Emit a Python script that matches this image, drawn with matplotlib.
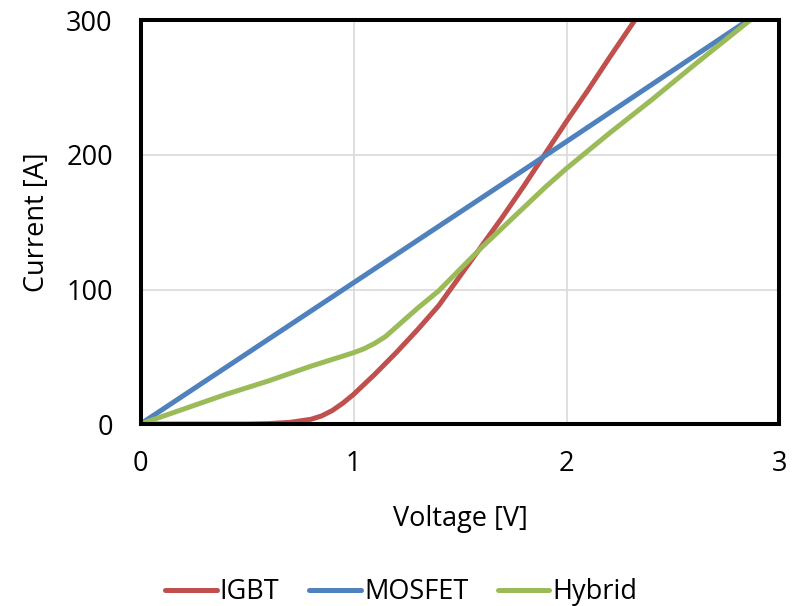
import matplotlib
matplotlib.use("Agg")
import matplotlib.pyplot as plt

plt.rcParams['font.family'] = ['Open Sans', 'DejaVu Sans']

# IGBT data
igbt_v = [0, 0.5, 0.6, 0.7, 0.8, 0.85, 0.9, 0.95, 1.0, 1.1, 1.2, 1.3, 1.4, 1.5, 1.6,
          1.7, 1.8, 1.9, 2.0, 2.1, 2.2, 2.32]
igbt_i = [0, 0, 0.3, 1.2, 3.5, 6, 10, 15.5, 22, 37, 53, 70, 88, 110, 132,
          154, 177, 201, 225, 248, 272, 300]

# MOSFET data
mosfet_v = [0, 1, 2, 2.85]
mosfet_i = [0, 105, 210, 300]

# Hybrid data
hybrid_v = [0, 0.2, 0.4, 0.6, 0.8, 0.9, 1.0, 1.05, 1.1, 1.15, 1.2, 1.3, 1.4, 1.5, 1.6,
            1.7, 1.8, 1.9, 2.0, 2.2, 2.4, 2.6, 2.86]
hybrid_i = [0, 11, 22, 32, 43, 48, 53, 56, 60, 65, 72, 86, 99, 115, 131,
            146, 161, 176, 190, 216, 241, 267, 300]

x_ticks = [0, 1, 2, 3]
y_ticks = [0, 100, 200, 300]

fig = plt.figure(figsize=(7.98, 6.06), dpi=100)
ax = fig.add_axes([0.1761, 0.3003, 0.9768 - 0.1761, 0.9662 - 0.3003])

lw = 3.6
ax.plot(igbt_v, igbt_i, color='#C0504D', lw=lw, label='IGBT', solid_capstyle='round', solid_joinstyle='round', zorder=3)
ax.plot(mosfet_v, mosfet_i, color='#4F81BD', lw=lw, label='MOSFET', solid_capstyle='round', solid_joinstyle='round', zorder=3)
ax.plot(hybrid_v, hybrid_i, color='#9BBB59', lw=lw, label='Hybrid', solid_capstyle='round', solid_joinstyle='round', zorder=3)

ax.set_xlim(0, 3)
ax.set_ylim(0, 300)
ax.set_xticks(x_ticks)
ax.set_yticks(y_ticks)
ax.set_xticklabels([str(t) for t in x_ticks])
ax.set_yticklabels([str(t) for t in y_ticks])
ax.grid(True, color='#D9D9D9', lw=1.2, zorder=0)
ax.set_axisbelow(True)
for s in ax.spines.values():
    s.set_linewidth(2.9)
    s.set_color('black')
    s.set_zorder(4)
ax.tick_params(axis='both', length=0, labelsize=19.5)
ax.tick_params(axis='x', pad=19)
ax.tick_params(axis='y', pad=20)

ax.set_xlabel('Voltage [V]', fontsize=19.5, labelpad=19)
ax.set_ylabel('Current [A]', fontsize=19.5, labelpad=11)

leg = fig.legend(loc='center', bbox_to_anchor=(0.503, 1 - 592 / 606), ncol=3, frameon=False,
                 fontsize=19.5, handlelength=1.9, handletextpad=0.12, columnspacing=1.1)

fig.savefig('out.png', dpi=100)
